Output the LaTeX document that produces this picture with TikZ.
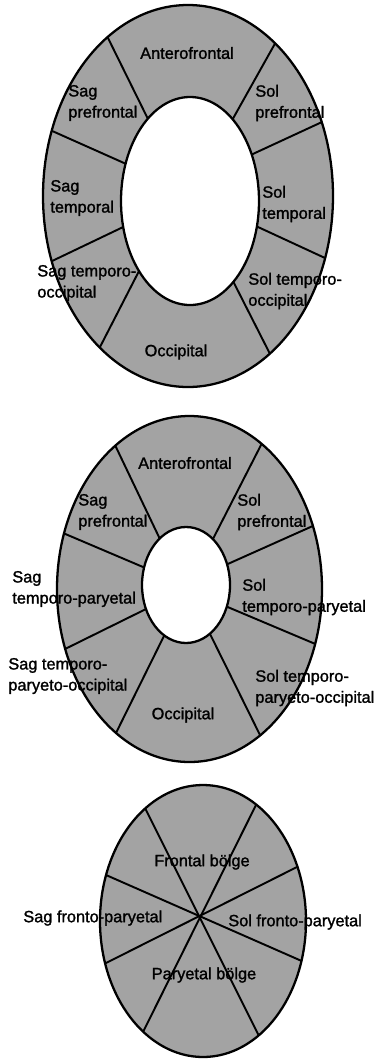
\documentclass[tikz,border=0pt]{standalone}
\usepackage{fontspec}
\setmainfont{Liberation Sans}
\newfontfamily\heavyfont[FakeBold=1.4]{Liberation Sans}
\usetikzlibrary{calc}
\tikzset{
  lobe/.style={fill=black!36},
  rim/.style={line width=1.3pt},
  cut/.style={line width=1.1pt},
  lbl/.style={inner sep=0pt,font=\heavyfont\fontsize{9.3}{12}\selectfont},
  lbll/.style={lbl,anchor=west,align=left},
}

\begin{document}
\begin{tikzpicture}[x=0.02cm,y=-0.02cm]
\useasboundingbox (0,0) rectangle (374,1059);
% first ring: cortex areas round a hole
\fill[lobe] (188,196) ellipse [x radius=145,y radius=191];
\begin{scope}
\clip (188,196) ellipse [x radius=145,y radius=191];
\foreach \xa/\ya/\xb/\yb in {147/117/108/38,235/115/277/40,124/163/50/130,255/153/322/122,119/229/50/262,258/227/325/258,138/273/100/347,235/285/268/350}
  {\draw[cut] ($(\xa,\ya)!-0.3!(\xb,\yb)$) -- ($(\xa,\ya)!1.3!(\xb,\yb)$);}
\end{scope}
\filldraw[rim,fill=white] (190,201) ellipse [x radius=69,y radius=104];
\draw[rim] (188,196) ellipse [x radius=145,y radius=191];
\node[lbl] (antero1) at (187,53) {Anterofrontal};
\node[lbll] (sagpre1) at (68,103) {Sag\\prefrontal};
\node[lbll] (solpre1) at (255,103) {Sol\\prefrontal};
\node[lbll] (sagtem1) at (50,198) {Sag\\temporal};
\node[lbll] (soltem1) at (262,204) {Sol\\temporal};
\node[lbll] (sagto1) at (37,283) {Sag temporo-\\occipital};
\node[lbll] (solto1) at (248,291) {Sol temporo-\\occipital};
\node[lbl] (occ1) at (176,352) {Occipital};
% second ring, smaller hole
\fill[lobe] (189.5,589) ellipse [x radius=132.5,y radius=173];
\begin{scope}
\clip (189.5,589) ellipse [x radius=132.5,y radius=173];
\foreach \xa/\ya/\xb/\yb in {158/535/115/445,215/535/260/447,143/567/63/533,230/563/315/525,144/610/63/650,230/608/313/643,162/640/115/735,212/638/260/735}
  {\draw[cut] ($(\xa,\ya)!-0.3!(\xb,\yb)$) -- ($(\xa,\ya)!1.3!(\xb,\yb)$);}
\end{scope}
\filldraw[rim,fill=white] (186,585) ellipse [x radius=44,y radius=58];
\draw[rim] (189.5,589) ellipse [x radius=132.5,y radius=173];
\node[lbl] (antero2) at (185,463) {Anterofrontal};
\node[lbll] (sagpre2) at (78,512) {Sag\\prefrontal};
\node[lbll] (solpre2) at (237,512) {Sol\\prefrontal};
\node[lbll] (sagtp2) at (12,589) {Sag\\temporo-paryetal};
\node[lbll] (soltp2) at (242,597) {Sol\\temporo-paryetal};
\node[lbll] (sagtpo2) at (8,676) {Sag temporo-\\paryeto-occipital};
\node[lbll] (soltpo2) at (255,688) {Sol temporo-\\paryeto-occipital};
\node[lbl] (occ2) at (183,715) {Occipital};
% third: no hole, spokes meet in one point
\fill[lobe] (203,921) ellipse [x radius=103,y radius=136];
\coordinate (hub) at (199,917);
\begin{scope}
\clip (203,921) ellipse [x radius=103,y radius=136];
\foreach \xa/\ya/\xb/\yb in {145/808/257/1032,257/803/143/1032,106/875/304/962,297/867/106/963}
  {\draw[cut] ($(\xa,\ya)!-0.1!(\xb,\yb)$) -- ($(\xa,\ya)!1.1!(\xb,\yb)$);}
\end{scope}
\draw[rim] (203,921) ellipse [x radius=103,y radius=136];
\node[lbl] (front3) at (202,862) {Frontal bölge};
\node[lbl,anchor=west] (sagfp3) at (23,918) {Sag fronto-paryetal};
\node[lbl,anchor=west] (solfp3) at (228,922) {Sol fronto-paryetal};
\node[lbl] (pary3) at (204,975) {Paryetal bölge};
\end{tikzpicture}
\end{document}
